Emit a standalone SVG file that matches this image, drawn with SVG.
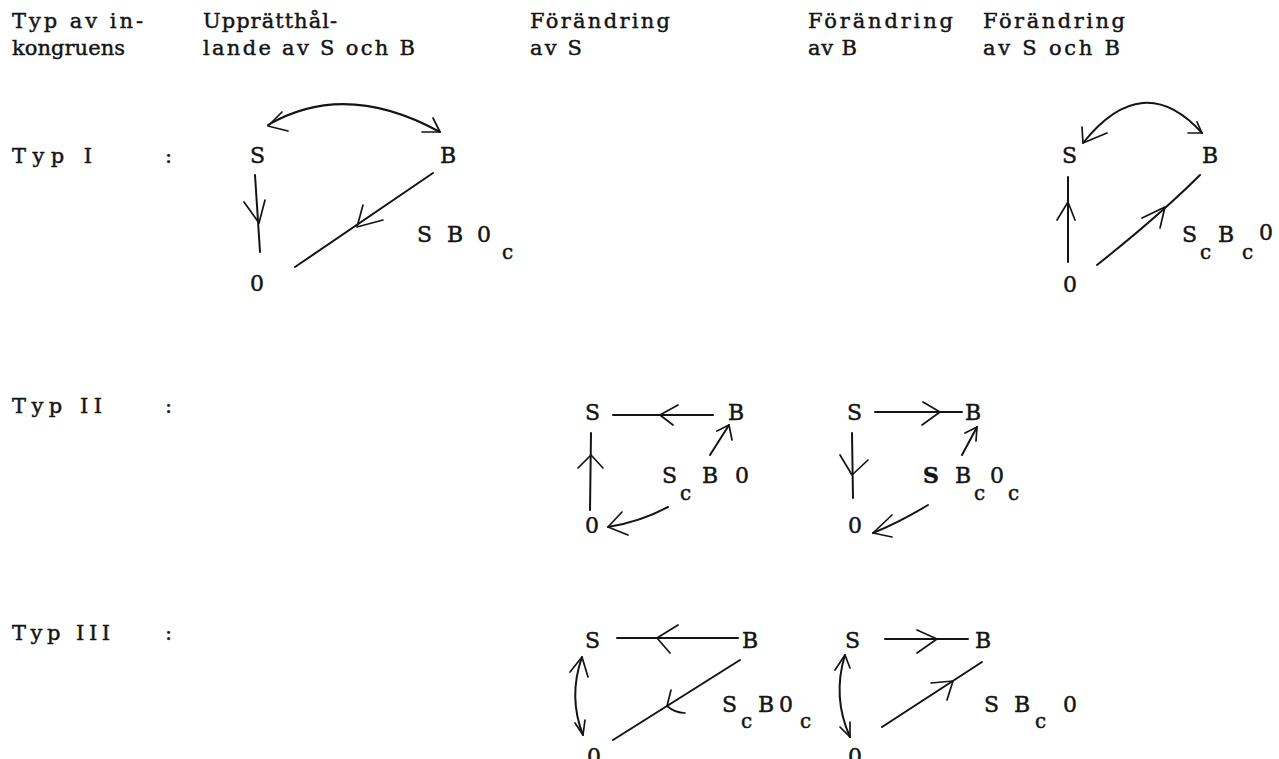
<svg xmlns="http://www.w3.org/2000/svg" width="1279" height="759" viewBox="0 0 1279 759">
<style>
text{font-family:"DejaVu Serif","Liberation Serif",serif;fill:#141414;stroke:#141414;stroke-width:0.45;}
.hd{font-size:21px;}
.nd{font-size:22px;}
.sb{font-size:20px;}
.ln{fill:none;stroke:#141414;stroke-width:2;stroke-linecap:round;stroke-linejoin:round;}
.hdv{fill:none;stroke:#141414;stroke-width:1.7;stroke-linecap:round;stroke-linejoin:round;}
</style>
<rect width="1279" height="759" fill="#fff"/>
<g id="header">
<text class="hd" x="12" y="28" textLength="131" lengthAdjust="spacing">Typ av in-</text>
<text class="hd" x="12" y="55" textLength="113" lengthAdjust="spacing">kongruens</text>
<text class="hd" x="203" y="28" textLength="134" lengthAdjust="spacing">Upprätthål-</text>
<text class="hd" x="203" y="55" textLength="212" lengthAdjust="spacing">lande av S och B</text>
<text class="hd" x="530" y="28" textLength="140" lengthAdjust="spacing">Förändring</text>
<text class="hd" x="530" y="55" textLength="52" lengthAdjust="spacing">av S</text>
<text class="hd" x="808" y="28" textLength="145" lengthAdjust="spacing">Förändring</text>
<text class="hd" x="808" y="55" textLength="49" lengthAdjust="spacing">av B</text>
<text class="hd" x="983" y="28" textLength="142" lengthAdjust="spacing">Förändring</text>
<text class="hd" x="983" y="55" textLength="137" lengthAdjust="spacing">av S och B</text>
</g>
<g id="rows">
<text class="hd" x="12" y="163" textLength="80" lengthAdjust="spacing">Typ I</text><text class="hd" x="165" y="163">:</text>
<text class="hd" x="12" y="413" textLength="90" lengthAdjust="spacing">Typ II</text><text class="hd" x="165" y="413">:</text>
<text class="hd" x="12" y="640" textLength="98" lengthAdjust="spacing">Typ III</text><text class="hd" x="165" y="640">:</text>
</g>
<g id="typ1-uppr">
<g id="t1a-S"><text class="nd" x="250" y="163">S</text></g>
<g id="t1a-B"><text class="nd" x="440" y="163">B</text></g>
<g id="t1a-0"><text class="nd" x="250" y="291">0</text></g>
<g id="t1a-label"><text class="nd"><tspan x="417" y="242">S</tspan><tspan x="447" y="242">B</tspan><tspan x="477" y="242">0</tspan><tspan class="sb" x="502" y="259">c</tspan></text></g>
</g>
<g id="typ1-forSB">
<g id="t1e-S"><text class="nd" x="1062" y="163">S</text></g>
<g id="t1e-B"><text class="nd" x="1202" y="163">B</text></g>
<g id="t1e-0"><text class="nd" x="1063" y="292">0</text></g>
<g id="t1e-label"><text class="nd"><tspan x="1182" y="242">S</tspan><tspan class="sb" x="1200" y="259">c</tspan><tspan x="1218" y="242">B</tspan><tspan class="sb" x="1242" y="259">c</tspan><tspan x="1259" y="240">0</tspan></text></g>
</g>
<g id="typ2-forS">
<g id="t2c-S"><text class="nd" x="585" y="420">S</text></g>
<g id="t2c-B"><text class="nd" x="728" y="420">B</text></g>
<g id="t2c-0"><text class="nd" x="585" y="533">0</text></g>
<g id="t2c-label"><text class="nd"><tspan x="662" y="483">S</tspan><tspan class="sb" x="680" y="500">c</tspan><tspan x="702" y="483">B</tspan><tspan x="735" y="483">0</tspan></text></g>
</g>
<g id="typ2-forB">
<g id="t2d-S"><text class="nd" x="847" y="420">S</text></g>
<g id="t2d-B"><text class="nd" x="965" y="420">B</text></g>
<g id="t2d-0"><text class="nd" x="848" y="533">0</text></g>
<g id="t2d-label"><text class="nd"><tspan x="923" y="483" font-weight="bold">S</tspan><tspan x="955" y="483">B</tspan><tspan class="sb" x="974" y="500">c</tspan><tspan x="990" y="483">0</tspan><tspan class="sb" x="1008" y="500">c</tspan></text></g>
</g>
<g id="typ3-forS">
<g id="t3c-S"><text class="nd" x="585" y="648">S</text></g>
<g id="t3c-B"><text class="nd" x="742" y="648">B</text></g>
<g id="t3c-0"><text class="nd" x="587" y="764">0</text></g>
<g id="t3c-label"><text class="nd"><tspan x="722" y="712">S</tspan><tspan class="sb" x="741" y="728">c</tspan><tspan x="758" y="712">B</tspan><tspan x="779" y="712">0</tspan><tspan class="sb" x="800" y="728">c</tspan></text></g>
</g>
<g id="typ3-forB">
<g id="t3d-S"><text class="nd" x="845" y="648">S</text></g>
<g id="t3d-B"><text class="nd" x="975" y="648">B</text></g>
<g id="t3d-0"><text class="nd" x="848" y="764">0</text></g>
<g id="t3d-label"><text class="nd"><tspan x="984" y="712">S</tspan><tspan x="1014" y="712">B</tspan><tspan class="sb" x="1035" y="728">c</tspan><tspan x="1063" y="712">0</tspan></text></g>
</g>
<g id="connectors">
<path class="ln" d="M268,125 Q345,80 440,132"/>
<path class="hdv" d="M282,112 L268,126 L288,131"/>
<path class="hdv" d="M433,118 L440,132 L422,132"/>
<path class="ln" d="M255,175 L260,252"/>
<path class="hdv" d="M244,202 L259,223 L265,200"/>
<path class="ln" d="M433,173 L295,267"/>
<path class="hdv" d="M363,205 L357,227 L383,220"/>
<path class="ln" d="M1083,143 Q1143,68 1202,133"/>
<path class="hdv" d="M1082,127 L1083,143 L1107,133"/>
<path class="hdv" d="M1197,122 L1202,133 L1188,133"/>
<path class="ln" d="M1068,262 L1068,177"/>
<path class="hdv" d="M1057,220 L1068,202 L1075,220"/>
<path class="ln" d="M1097,265 Q1160,215 1200,175"/>
<path class="hdv" d="M1142,218 L1165,207 L1160,228"/>
<path class="ln" d="M713,415 L613,415"/>
<path class="hdv" d="M678,405 L660,415 L673,425"/>
<path class="ln" d="M590,510 L591,433"/>
<path class="hdv" d="M578,468 L591,455 L603,468"/>
<path class="ln" d="M710,455 L729,425"/>
<path class="hdv" d="M717,431 L729,425 L732,440"/>
<path class="ln" d="M668,507 Q640,522 608,527"/>
<path class="hdv" d="M622,512 L608,527 L628,535"/>
<path class="ln" d="M875,412 L962,412"/>
<path class="hdv" d="M923,402 L940,412 L922,425"/>
<path class="ln" d="M852,433 L853,498"/>
<path class="hdv" d="M840,455 L852,475 L868,460"/>
<path class="ln" d="M962,455 L977,427"/>
<path class="hdv" d="M965,433 L977,427 L976,441"/>
<path class="ln" d="M928,505 Q900,522 873,533"/>
<path class="hdv" d="M892,515 L873,533 L892,537"/>
<path class="ln" d="M738,638 L617,638"/>
<path class="hdv" d="M678,625 L657,638 L670,653"/>
<path class="ln" d="M582,657 Q568,697 583,735"/>
<path class="hdv" d="M570,672 L582,657 L588,677"/>
<path class="hdv" d="M575,723 L583,735 L585,720"/>
<path class="ln" d="M740,660 L613,740"/>
<path class="hdv" d="M671,690 L667,706 Q675,713 685,713"/>
<path class="ln" d="M885,639 L968,639"/>
<path class="hdv" d="M917,630 L937,639 L917,653"/>
<path class="ln" d="M845,655 Q832,697 850,737"/>
<path class="hdv" d="M835,670 L845,655 L850,668"/>
<path class="hdv" d="M840,727 L850,737 L850,722"/>
<path class="ln" d="M882,727 L982,662"/>
<path class="hdv" d="M931,683 L953,681 L947,700"/>
</g>
</svg>
